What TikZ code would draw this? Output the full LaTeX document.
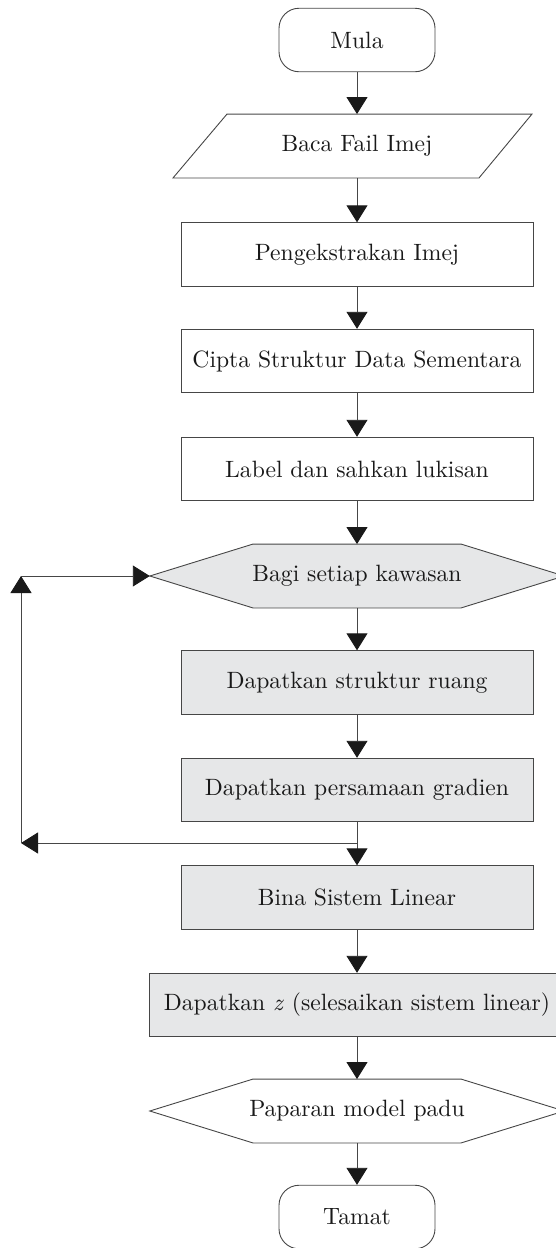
\documentclass[tikz,border=0pt]{standalone}
\usepackage{fontspec}
\setmainfont{lmroman10-regular}[Extension=.otf, ItalicFont=lmroman10-italic]
\usetikzlibrary{arrows.meta,backgrounds,calc}
\definecolor{boxgray}{RGB}{230,231,232}
\definecolor{linegray}{RGB}{70,70,70}
\begin{document}
\begin{tikzpicture}[x=1pt,y=-1pt,
  every node/.style={font=\fontsize{23.6}{27}\selectfont, inner sep=0pt, text=black!90},
  stepbox/.style={draw=linegray, line width=0.9pt, rectangle, minimum width=352pt, minimum height=63.5pt},
  graybox/.style={stepbox, fill=boxgray},
  termbox/.style={draw=linegray, line width=0.9pt, rectangle, rounded corners=20pt, minimum width=156pt, minimum height=63.5pt},
  plain/.style={rectangle, minimum height=63.5pt},
  outline/.style={draw=linegray, line width=0.9pt},
  arr/.style={draw=linegray, line width=0.9pt, -{Triangle[width=21pt,length=17pt,fill=black!90,color=black!90]}}
]
\useasboundingbox (0,0) rectangle (555,1248);

% nodes
\node[termbox] (mula) at (357,40) {Mula};
\node[plain, minimum width=305pt] (baca) at (357,146) {Baca Fail Imej};
\node[stepbox] (peng) at (357,254.5) {Pengekstrakan Imej};
\node[stepbox] (cipta) at (357,361) {Cipta Struktur Data Sementara};
\node[stepbox] (label) at (357,469) {Label dan sahkan lukisan};
\node[plain, minimum width=414pt] (hex) at (357,576) {Bagi setiap kawasan};
\node[graybox] (ruang) at (357,682.5) {Dapatkan struktur ruang};
\node[graybox] (grad) at (357,790) {Dapatkan persamaan gradien};
\node[graybox] (bina) at (357,897.5) {Bina Sistem Linear};
\node[graybox, minimum width=416pt] (selz) at (357,1005) {Dapatkan \textit{z} (selesaikan sistem linear)};
\node[plain, minimum width=414pt] (papar) at (357,1111) {Paparan model padu};
\node[termbox] (tamat) at (357,1217) {Tamat};

% shapes drawn around nodes
\draw[outline] ([xshift=-130pt]baca.north) -- ([xshift=175pt]baca.north)
  -- ([xshift=122pt]baca.south) -- ([xshift=-184pt]baca.south) -- cycle;
\begin{scope}[on background layer]
\draw[outline, fill=boxgray] (hex.west) -- ([xshift=-104pt]hex.north) -- ([xshift=104pt]hex.north)
  -- (hex.east) -- ([xshift=104pt]hex.south) -- ([xshift=-104pt]hex.south) -- cycle;
\end{scope}
\draw[outline] (papar.west) -- ([xshift=-104pt]papar.north) -- ([xshift=104pt]papar.north)
  -- (papar.east) -- ([xshift=104pt]papar.south) -- ([xshift=-104pt]papar.south) -- cycle;

% loop corner coordinates
\coordinate (lb) at (21,843);
\coordinate (lt) at (21,576);
\coordinate (br) at (357,843);

% connectors
\draw[arr] (mula) -- (baca);
\draw[arr] (baca) -- (peng);
\draw[arr] (peng) -- (cipta);
\draw[arr] (cipta) -- (label);
\draw[arr] (label) -- (hex);
\draw[arr] (hex) -- (ruang);
\draw[arr] (ruang) -- (grad);
\draw[arr] (grad) -- (bina);
\draw[arr] (br) -- (lb);
\draw[arr] (lb) -- (lt);
\draw[arr] (lt) -- (hex.west);
\draw[arr] (bina) -- (selz);
\draw[arr] (selz) -- (papar);
\draw[arr] (papar) -- (tamat);
\end{tikzpicture}
\end{document}
